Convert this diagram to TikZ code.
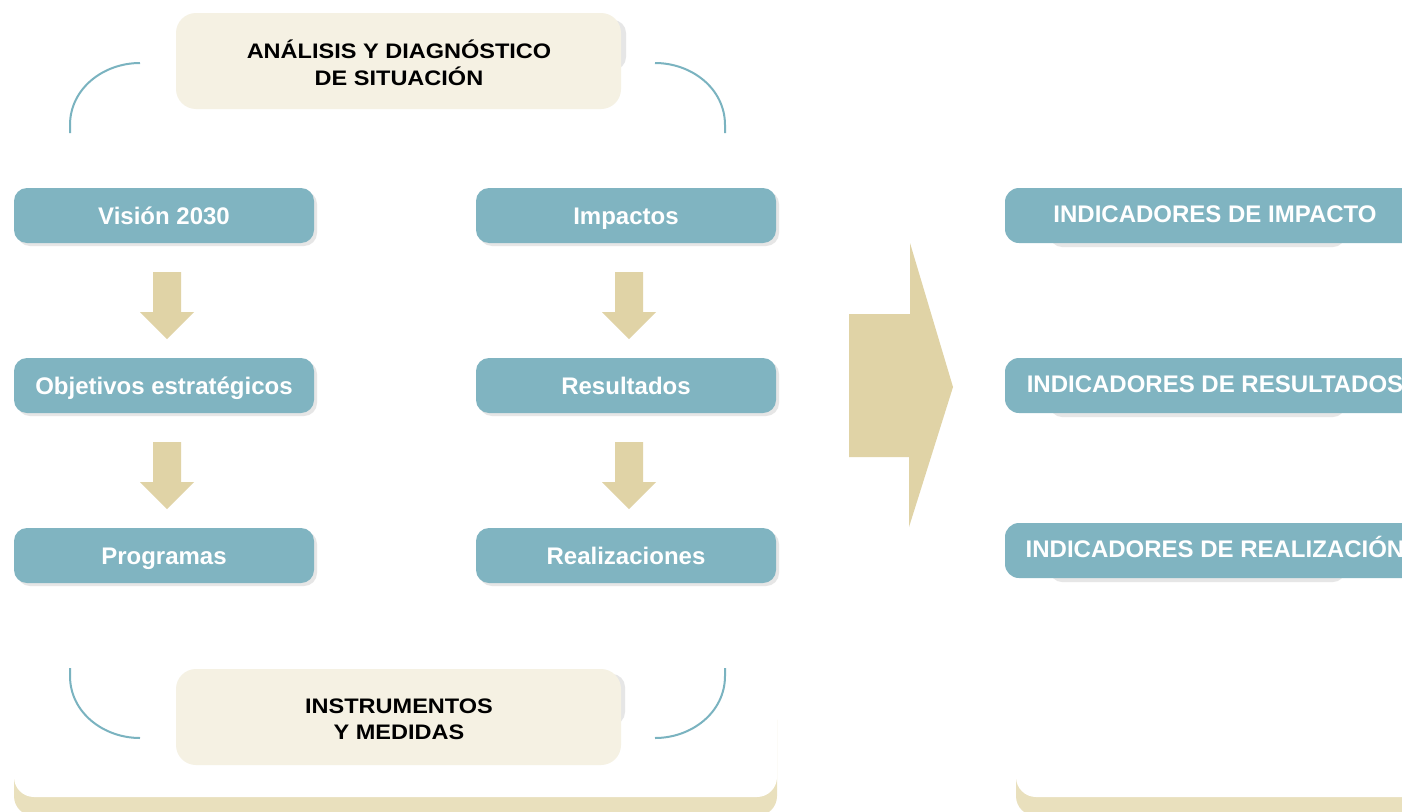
\documentclass[tikz,border=0pt]{standalone}
\usepackage{fontspec}
\setmainfont{Liberation Sans}
\newfontfamily\widesans[FakeStretch=1.12]{Liberation Sans}
\usetikzlibrary{calc,shadows}
\definecolor{boxblue}{RGB}{128,180,193}
\definecolor{lightbeige}{RGB}{245,241,227}
\definecolor{arrowbeige}{RGB}{224,211,166}
\definecolor{panelbeige}{RGB}{233,224,189}
\definecolor{shadowgrey}{RGB}{230,230,230}
\definecolor{linecol}{RGB}{122,179,192}
\newcommand\dnarrow[1]{%
  \fill[arrowbeige] ($(#1.south)+(-11,29)$) -- ($(#1.south)+(17,29)$) -- ($(#1.south)+(17,69)$)
    -- ($(#1.south)+(30,69)$) -- ($(#1.south)+(3,96)$) -- ($(#1.south)+(-24,69)$)
    -- ($(#1.south)+(-11,69)$) -- cycle;}
\begin{document}
\begin{tikzpicture}[x=1pt,y=-1pt,
  boxtext/.style={font=\fontsize{24}{27}\selectfont\bfseries},
  bluebox/.style={boxtext, fill=boxblue, rounded corners=13pt, minimum width=300pt,
    minimum height=55pt, inner sep=0pt, text height=18.5pt, text depth=0pt, text=white,
    drop shadow={shadow xshift=3pt,shadow yshift=-3pt,fill=shadowgrey,opacity=1}},
  indbox/.style={boxtext, fill=boxblue, rounded corners=14pt, minimum width=420pt,
    minimum height=55pt, inner sep=0pt, text height=13.6pt, text depth=0pt, text=white},
  beigebox/.style={fill=lightbeige, rounded corners=20pt, minimum width=445pt,
    minimum height=96pt, inner sep=0pt},
  beigetext/.style={font=\fontsize{21}{26}\widesans\bfseries, inner sep=0pt,
    anchor=base, text=black},
  bracket/.style={draw=linecol, line width=2pt},
  panelwhite/.style={fill=white, rounded corners=20pt},
  panelbeige/.style={fill=panelbeige, rounded corners=20pt}]
\useasboundingbox (0,0) rectangle (1402,811);
\clip (0,0) rectangle (1402,811);
\fill[white] (0,0) rectangle (1402,811);
% bottom panels
\path[panelbeige] (14,700) rectangle (777,816);
\path[panelwhite] (14,600) rectangle (777,797);
\path[panelbeige] (1016,700) rectangle (1460,816);
\path[panelwhite] (1016,600) rectangle (1460,797);
% brackets
\draw[bracket] (140,63) to[out=180,in=90] (70,125) -- (70,133);
\draw[bracket] (655,63) to[out=0,in=90] (725,125) -- (725,133);
\draw[bracket] (70,668) -- (70,676) to[out=-90,in=180] (140,738);
\draw[bracket] (725,668) -- (725,676) to[out=-90,in=0] (655,738);
% beige boxes with grey shadows
\fill[shadowgrey, rounded corners=13pt] (190,20) rectangle (626,70);
\node[beigebox] (ana) at (398.5,61) {};
\node[beigetext] (ana1) at (399,58.3) {ANÁLISIS Y DIAGNÓSTICO};
\node[beigetext] (ana2) at (399,85) {DE SITUACIÓN};
\fill[shadowgrey, rounded corners=13pt] (190,674) rectangle (625,725);
\node[beigebox] (ins) at (398.5,717) {};
\node[beigetext] (ins1) at (399,713) {INSTRUMENTOS};
\node[beigetext] (ins2) at (399,739) {Y MEDIDAS};
% left column
\node[bluebox] (vis) at (164,215.5) {Visión 2030};
\node[bluebox] (obj) at (164,385.5) {Objetivos estratégicos};
\node[bluebox] (pro) at (164,555.5) {Programas};
% right column
\node[bluebox] (imp) at (626,215.5) {Impactos};
\node[bluebox] (res) at (626,385.5) {Resultados};
\node[bluebox] (rea) at (626,555.5) {Realizaciones};
% small arrows
\dnarrow{vis}
\dnarrow{obj}
\dnarrow{imp}
\dnarrow{res}
% big arrow
\fill[arrowbeige] (849,314) -- (910,314) -- (910,243) -- (953,387) -- (909,527)
  -- (909,457) -- (849,457) -- cycle;
% indicator boxes
\fill[shadowgrey, rounded corners=12pt] (1050,200) rectangle (1345,247);
\node[indbox] (iimp) at (1215,215.5) {INDICADORES DE IMPACTO};
\fill[shadowgrey, rounded corners=12pt] (1050,370) rectangle (1345,417);
\node[indbox] (ires) at (1215,385.5) {INDICADORES DE RESULTADOS};
\fill[shadowgrey, rounded corners=12pt] (1050,535) rectangle (1345,582);
\node[indbox] (irea) at (1215,550.5) {INDICADORES DE REALIZACIÓN};
\end{tikzpicture}
\end{document}
